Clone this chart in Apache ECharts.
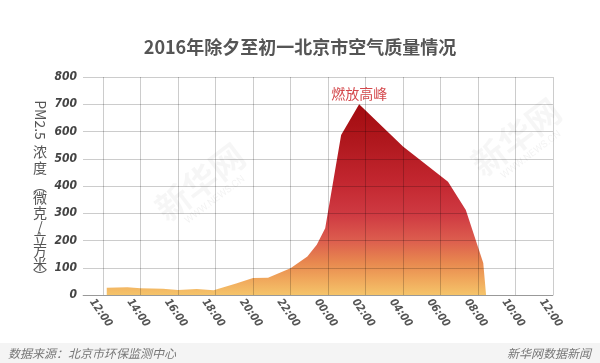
<!DOCTYPE html>
<html>
<head>
<meta charset="utf-8">
<script src="https://cdn.jsdelivr.net/npm/echarts@6/dist/echarts.min.js"></script>
<style>html,body{margin:0;padding:0;background:#fff}#c{width:600px;height:363px}</style>
</head>
<body>
<div id="c"></div>
<script>
// ---- data ----
const titleText = '2016年除夕至初一北京市空气质量情况';
const peakNote = '燃放高峰';
const sourceText = '数据来源：北京市环保监测中心';
const brandText = '新华网数据新闻';
const yNameLatin = 'PM2.5';
const yNameCJK = ['浓', '度', '︵', '微', '克', '/', '立', '方', '米', '︶'];
// hours elapsed since 12:00 on New Year's Eve
const hours = [0.2, 1.3, 2.0, 3.2, 4.0, 5.0, 5.9, 7.1, 8.0, 8.8, 10.0, 10.9, 11.4, 11.85, 12.7, 13.66, 16.0, 18.4, 19.35, 20.28, 20.43];
const pm25  = [27, 28, 25, 23, 18, 22, 17, 42, 62, 63, 98, 141, 184, 245, 587, 700, 545, 416, 312, 117, 0];
const peakIndex = 15;
const tickHours = [0, 2, 4, 6, 8, 10, 12, 14, 16, 18, 20, 22, 24];
const tickLabels = ['12:00','14:00','16:00','18:00','20:00','22:00','00:00','02:00','04:00','06:00','08:00','10:00','12:00'];
const yTicks = [0, 100, 200, 300, 400, 500, 600, 700, 800];

const seriesData = hours.map((h, i) => [h, pm25[i]]);
// slanted labels start a little left of their tick
const labelShift = 0.6;
const labelHours = tickHours.map(h => h - labelShift);

const chart = echarts.init(document.getElementById('c'), null, { renderer: 'canvas' });

const yNameY = [152, 168, 186, 198, 213, 227, 239, 251, 264, 276];
const yNameGraphics = yNameCJK.map((ch, i) => ({
  type: 'text', x: 40, y: yNameY[i],
  style: { text: ch, fontSize: 14, fill: '#555', fontFamily: 'Noto Sans CJK SC',
    textAlign: 'center', textVerticalAlign: 'middle' }
}));

const labelFont = "'Liberation Sans Narrow','DejaVu Sans Condensed',sans-serif";

chart.setOption({
  backgroundColor: '#fff',
  animation: false,
  title: {
    text: titleText, left: 'center', top: 33,
    textStyle: { fontSize: 18, fontWeight: 'bold', color: '#555', fontFamily: 'Noto Sans CJK SC' }
  },
  grid: { left: 83, right: 47, top: 77, bottom: 68 },
  xAxis: {
    type: 'value', min: -1.0667, max: 24, z: 3,
    axisLine: { show: true, lineStyle: { color: 'rgba(0,0,0,0.25)', width: 1 } },
    axisTick: { show: false, customValues: tickHours },
    splitLine: { show: true, lineStyle: { color: 'rgba(0,0,0,0.2)', width: 1 } },
    axisLabel: {
      customValues: labelHours, rotate: -55, margin: 5,
      formatter: v => {
        const i = labelHours.findIndex(x => Math.abs(x - v) < 1e-6);
        return i >= 0 ? tickLabels[i] : '';
      },
      fontFamily: labelFont, fontStyle: 'italic', fontWeight: 'bold', fontSize: 11, color: '#555'
    }
  },
  yAxis: {
    type: 'value', min: 0, max: 800, interval: 100, z: 3,
    axisLine: { show: false }, axisTick: { show: false },
    splitLine: { show: true, lineStyle: { color: 'rgba(0,0,0,0.2)', width: 1 } },
    axisLabel: {
      margin: 6, formatter: v => (yTicks.indexOf(v) >= 0 ? String(v) : ''),
      fontFamily: labelFont, fontStyle: 'italic', fontWeight: 'bold', fontSize: 12, color: '#444'
    }
  },
  series: [{
    type: 'line', data: seriesData, symbol: 'none', showSymbol: false, z: 2,
    lineStyle: { width: 0 },
    areaStyle: {
      opacity: 1,
      color: new echarts.graphic.LinearGradient(0, 0, 0, 1, [
        { offset: 0, color: '#a30b0f' },
        { offset: 0.2, color: '#b0181e' },
        { offset: 0.4, color: '#c2262f' },
        { offset: 0.58, color: '#cf3a42' },
        { offset: 0.71, color: '#dc5c4e' },
        { offset: 0.83, color: '#e8884f' },
        { offset: 0.92, color: '#f0a85c' },
        { offset: 1, color: '#f5c46a' }
      ])
    },
    markPoint: {
      symbol: 'circle', symbolSize: 0, silent: true,
      label: { show: true, position: 'top', distance: 4, formatter: peakNote,
        color: '#d4484c', fontSize: 14, fontFamily: 'Noto Sans CJK SC' },
      data: [{ coord: [hours[peakIndex], pm25[peakIndex]] }]
    }
  }],
  graphic: [
    { type: 'text', x: 40, y: 120, rotation: -Math.PI / 2,
      style: { text: yNameLatin, fontSize: 14, fill: '#555', fontFamily: 'Noto Sans CJK SC',
        textAlign: 'center', textVerticalAlign: 'middle' } },
    ...yNameGraphics,
    { type: 'rect', shape: { x: 0, y: 343, width: 600, height: 20 }, style: { fill: '#f4f4f4' }, z: -1 },
    { type: 'text', x: 8, y: 347,
      style: { text: sourceText, fontSize: 12, fill: '#777', fontStyle: 'italic', fontFamily: 'Noto Sans CJK SC' } },
    { type: 'text', x: 591, y: 347,
      style: { text: brandText, fontSize: 12, fill: '#777', fontStyle: 'italic', fontFamily: 'Noto Sans CJK SC', textAlign: 'right' } },
    { type: 'text', x: 200, y: 182, rotation: 0.65, style: { text: '新华网', fontSize: 34, fontWeight: 'bold', fill: 'rgba(0,0,0,0.035)', fontFamily: 'Noto Sans CJK SC', textAlign: 'center', textVerticalAlign: 'middle' } },
    { type: 'text', x: 215, y: 200, rotation: 0.65, style: { text: 'WWW.NEWS.CN', fontSize: 10, fill: 'rgba(0,0,0,0.05)', fontFamily: 'Roboto', textAlign: 'center', textVerticalAlign: 'middle' } },
    { type: 'text', x: 516, y: 137, rotation: 0.65, style: { text: '新华网', fontSize: 34, fontWeight: 'bold', fill: 'rgba(0,0,0,0.035)', fontFamily: 'Noto Sans CJK SC', textAlign: 'center', textVerticalAlign: 'middle' } },
    { type: 'text', x: 531, y: 155, rotation: 0.65, style: { text: 'WWW.NEWS.CN', fontSize: 10, fill: 'rgba(0,0,0,0.05)', fontFamily: 'Roboto', textAlign: 'center', textVerticalAlign: 'middle' } }
  ]
});
</script>
</body>
</html>
